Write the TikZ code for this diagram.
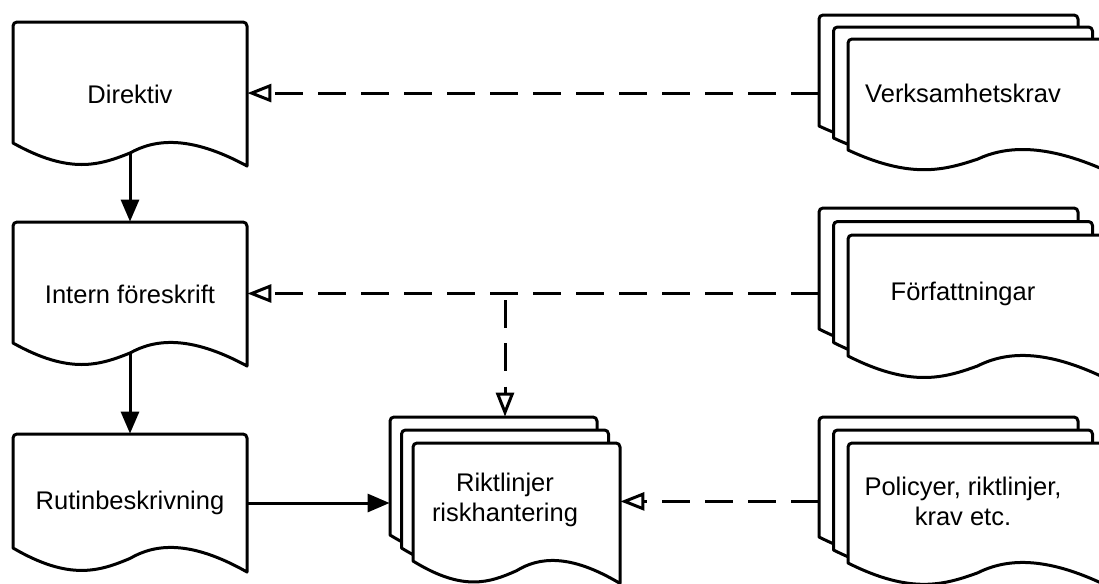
\documentclass[tikz,border=0pt]{standalone}
\usepackage{fontspec}
\setmainfont{Liberation Sans}
\usetikzlibrary{arrows.meta,calc}

% Document outline: left x, top y, right x, bottom-left y, bottom-right y
\newcommand\docpath[5]{%
  (#1,#4) -- (#1,{#2+4}) arc[start angle=180,end angle=270,radius=4]
  -- ({#3-4},#2) arc[start angle=270,end angle=360,radius=4]
  -- (#3,#5)
  .. controls ({#1+0.756*(#3-#1)},{#4-8*(#5-#4)/23}) and ({#1+0.607*(#3-#1)},{#4-4*(#5-#4)/23})
  .. ({#1+0.5*(#3-#1)},{#4+10*(#5-#4)/23})
  .. controls ({#1+0.372*(#3-#1)},{#4+22*(#5-#4)/23}) and ({#1+0.244*(#3-#1)},{#4+32*(#5-#4)/23})
  .. (#1,#4) -- cycle}

% Single document: name, left, top, right, bottom-left, bottom-right, text
\newcommand\singledoc[7]{%
  \filldraw[sheet] \docpath{#2}{#3}{#4}{#5}{#6};
  \node[docbox, minimum width={(#4-#2)*0.5pt}, minimum height={(#6-#3)*0.5pt}]
    (#1) at ({(#2+#4)/2},{(#3+#6)/2}) {#7};
  \coordinate (#1-wave) at ({(#2+#4)/2},{#5+10*(#6-#5)/23});
}

% Stack of three documents: name, left, top, right (back sheet), dx, dy, height, text
\newcommand\docstack[8]{%
  \foreach \i in {0,1,2}{%
    \pgfmathsetmacro\sL{#2+\i*#5}%
    \pgfmathsetmacro\sT{#3+\i*#6}%
    \pgfmathsetmacro\sR{#4+\i*#5}%
    \pgfmathsetmacro\sYL{\sT+#7}%
    \pgfmathsetmacro\sYR{\sT+1.19*#7}%
    \filldraw[sheet] \docpath{\sL}{\sT}{\sR}{\sYL}{\sYR};
  }
  \node[docbox, minimum width={(#4-#2+2*#5)*0.5pt}, minimum height={(2*#6+1.19*#7)*0.5pt}]
    (#1) at ({(#2+#4+2*#5)/2},{#3+(2*#6+1.19*#7)/2}) {#8};
}

\begin{document}
\begin{tikzpicture}[x=0.5pt, y=-0.5pt,
  sheet/.style={draw=black, fill=white, line width=1.5pt, line join=round},
  docbox/.style={inner sep=0pt, draw=none, align=center,
    font=\fontsize{12.75pt}{15pt}\selectfont},
  solidarrow/.style={line width=1.5pt, -{Triangle[length=11pt,width=9pt]}},
  dasharrow/.style={line width=1.5pt, dash pattern=on 14pt off 7.5pt,
    -{Triangle[length=12pt,width=9pt,fill=white]}}]

\useasboundingbox (0,0) rectangle (1099,584);
\clip (0,0) rectangle (1099,584);

% Left column
\singledoc{dir}{13}{22}{247}{143}{166}{Direktiv}
\singledoc{int}{13}{222}{247}{343}{366}{Intern föreskrift}
\singledoc{rut}{13}{434}{247}{548}{572}{Rutinbeskrivning}

% Middle stack
\docstack{rikt}{390}{417}{597}{11.5}{13}{118}{Riktlinjer\\riskhantering}

% Right column
\docstack{verk}{819}{15}{1078}{14.5}{12}{111}{Verksamhetskrav}
\docstack{forf}{819}{208}{1078}{14.5}{13.5}{121}{Författningar}
\docstack{pol}{819}{417}{1078}{14.5}{13}{120}{Policyer, riktlinjer,\\krav etc.}

% Connectors
\draw[solidarrow] (dir-wave) -- (int.north);
\draw[solidarrow] (int-wave) -- (rut.north);
\draw[dasharrow] (verk.west) -- (verk.west -| dir.east);
\draw[dasharrow] (forf.west) -- (forf.west -| int.east);
\coordinate (split) at (forf.west -| rikt.north);
\draw[dasharrow, dash phase=18pt] (split) -- (rikt.north);
\draw[solidarrow] (rut.east) -- (rut.east -| rikt.west);
\draw[dasharrow] (pol.west) -- (pol.west -| rikt.east);
\end{tikzpicture}
\end{document}
